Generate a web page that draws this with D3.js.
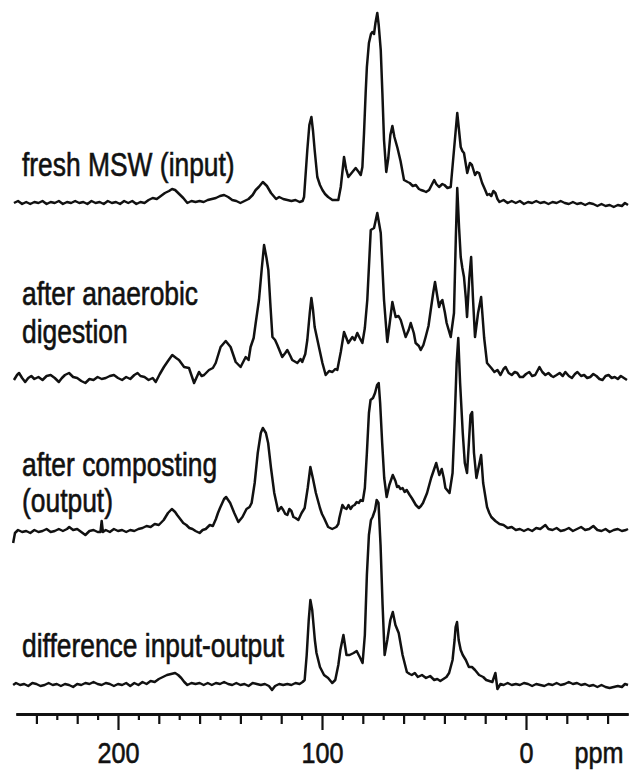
<!DOCTYPE html>
<html>
<head>
<meta charset="utf-8">
<script src="https://cdn.jsdelivr.net/npm/d3@7"></script>
<style>
  body { margin: 0; background: #fff; }
  svg { display: block; }
</style>
</head>
<body>
<svg id="chart" width="630" height="771"></svg>
<script>
// spectra: [chemical shift (ppm), intensity (a.u.)]
const freshMSW = [
  [251, 0], [249, 2], [247, -1], [245, 1], [243, -1], [241, 1], [239, 0], [237, 2], [235, -1], [233, 1],
  [231, 0], [229, 2], [227, -1], [225, 1], [223, 0], [221, 2], [219, 0], [217, 1], [215, -1], [213, 2],
  [211, 0], [209, 1], [207, -1], [205, 2], [203, 0], [201, 1], [199, -1], [197, 2], [195, 0], [193, 2],
  [191, -1], [189, 1], [187, 0], [185, 3], [183, 5], [181, 4], [179, 7], [177, 10], [175, 12], [173.5, 14],
  [172, 13], [170, 9], [168, 5], [166, 0], [164, 2], [162, 1], [160, 2], [158, 1], [156, 3], [154, 4],
  [152, 5], [150, 7], [148, 8], [146, 6], [144, 3], [142, 2], [140, 0], [138, 2], [136, 4], [134, 8],
  [132.5, 13], [131, 16], [129, 21], [127, 17], [125, 10], [122.5, 4], [121, 6], [119, 4], [117, 3], [115, 2],
  [113, 3], [111, 1], [109.5, 2], [108.8, 6], [107.2, 53], [106.2, 78], [105.2, 86], [104.4, 72], [103.6, 53], [102.3, 26],
  [101, 18], [99.8, 13], [98.5, 9], [97, 6], [94.9, 3], [92, 3], [90.8, 16], [89.2, 46], [88.2, 34], [87.1, 26],
  [85.5, 30], [83.5, 35], [82, 31], [81, 28], [80.2, 36], [79.4, 70], [78.6, 110], [78, 136], [77, 160], [76, 169],
  [75.3, 171], [74.5, 169], [73.8, 180], [72.9, 190], [72.2, 178], [71.2, 153], [70.4, 110], [69.6, 63], [68.5, 31], [67.5, 45],
  [66.5, 68], [65.5, 77], [64.5, 66], [63, 55], [61.5, 42], [59.8, 23], [58, 21], [57, 20], [55.5, 17], [54, 18],
  [52.5, 14], [51.5, 13], [50, 12], [49, 11], [47.5, 13], [47, 15], [45, 23], [44, 19], [42.6, 16], [41, 19],
  [40, 18], [38.5, 15], [36.9, 16], [35.3, 53], [33.7, 90], [32, 56], [31.2, 52], [30.4, 50], [28.8, 30], [27.5, 40],
  [26.5, 38], [25, 28], [24, 31], [23, 30], [21.5, 20], [20, 13], [19, 8], [18, 9], [17, 7], [16, 12],
  [15, 10], [14, 4], [13, 1], [11, 3], [9, 0], [7, 2], [5, 0], [3, 2], [1, -1], [-1, 1],
  [-3, 0], [-5, 2], [-7, 0], [-9, 1], [-11, -1], [-13, 1], [-15, 0], [-17, 2], [-19, 0], [-21, -1],
  [-23, 1], [-25, -1], [-27, 0], [-29, -2], [-31, 0], [-33, -1], [-35, -3], [-37, -1], [-39, -3], [-41, -2],
  [-43, -4], [-45, -2], [-47, -3], [-48.5, 0], [-50, -2]
];

const anaerobic = [
  [251, -2], [249.5, 3], [248.5, 5], [247, 0], [245.5, -4], [244, 0], [242.5, 2], [241, -1], [239, 1], [237, -2],
  [235, 2], [233, 3], [231, 0], [229, -4], [227.5, 0], [226, 3], [224, 5], [222, 1], [220, 0], [218, -3],
  [216, -5], [214, -1], [212, -2], [210, 1], [208, -1], [206, 0], [204, 2], [202, 3], [200, 0], [198, -2],
  [196, 1], [194, -1], [192, 3], [190.4, 5], [189, 2], [187, 1], [185, -2], [183, 0], [181.5, -4], [179.5, 4],
  [177.5, 11], [175.5, 17], [173.4, 23], [171.5, 20], [170.1, 18], [167.6, 11], [165.2, 10], [162.7, -5], [160.3, 6], [159, 2],
  [157.8, 3], [155.4, 8], [153.5, 10], [152.1, 15], [149.7, 31], [147.2, 37], [144.8, 31], [142.3, 16], [139.9, 11], [137.4, 21],
  [136, 18], [135, 31], [133.5, 40], [132.5, 55], [130.9, 78], [129.5, 110], [128.4, 133], [127.2, 120], [126.3, 108], [125.2, 70],
  [124.3, 41], [123, 38], [121.9, 33], [119.5, 21], [118, 25], [117, 28], [115.5, 22], [114.6, 18], [112.1, 15], [110.5, 19],
  [109.7, 16], [108.2, 24], [107.2, 38], [106, 65], [105.2, 80], [104.4, 68], [103.6, 51], [101.5, 31], [99.8, 15], [98.2, 3],
  [96.5, 7], [94.9, 6], [93.5, 9], [92.5, 8], [90.8, 26], [89.2, 46], [87.1, 35], [85.1, 41], [84, 38], [82.7, 45],
  [81.5, 40], [80.2, 35], [79, 50], [77.8, 78], [76.1, 148], [74.5, 150], [72.9, 165], [71.2, 145], [69.6, 78], [68, 36],
  [66.8, 55], [65.5, 76], [63.9, 61], [62.5, 62], [61.4, 58], [59, 41], [57.5, 48], [56.5, 55], [55, 45], [54.1, 35],
  [52.5, 32], [51.6, 28], [50.3, 33], [49.2, 41], [47.8, 52], [46.7, 68], [45.5, 85], [44.6, 96], [43.5, 82], [42.6, 71],
  [41.8, 76], [41, 78], [39.8, 66], [38.9, 55], [36.9, 41], [35.3, 65], [34.4, 140], [33.7, 190], [32.8, 150], [32, 121],
  [31.2, 110], [30.4, 101], [29.5, 80], [28.9, 61], [27.8, 100], [26.9, 121], [26, 80], [25, 41], [23.5, 65], [22, 81],
  [20.5, 40], [19.1, 15], [17, 10], [15.5, 6], [14, 8], [12.5, 3], [11, 9], [10, 11], [8.5, 5], [7, 3],
  [5.5, 6], [4.3, 5], [3, 1], [1.5, 1], [0, 4], [-1.6, 6], [-3, 2], [-4.5, 3], [-6.6, 11], [-8, 6],
  [-9.5, 3], [-11, 5], [-12.5, 2], [-13.4, 1], [-15, 3], [-16.5, 5], [-18, 2], [-19.3, 6], [-21, 2], [-22.5, 0],
  [-24, 4], [-25.2, 6], [-27, 2], [-28.5, 3], [-30, 0], [-31.5, 1], [-33, 4], [-34.5, 2], [-36, -1], [-37.5, -2],
  [-39, 2], [-40.5, 3], [-42, 0], [-43.5, 1], [-45, -1], [-46.5, 2], [-48, 0], [-49.5, -2]
];

const composting = [
  [251.4, -10], [250.5, 0], [249, 3], [247, 1], [245, 2], [243, 0], [241, 3], [239, 1], [237, 2], [235, 4],
  [233, 1], [231, 2], [229, 4], [227, 2], [225, 4], [223.9, 6], [222, 3], [220, 4], [218, 1], [216, -2],
  [214, 2], [212, 3], [210, 1], [208.6, 1], [208, 12], [207.4, 1], [206, 3], [204, 1], [202, 4], [200, 2],
  [198, 3], [196, 1], [194, 3], [192, 2], [190, 4], [188, 5], [186, 7], [184, 6], [182, 9], [180, 8],
  [177.6, 13], [175.5, 20], [173.6, 24], [172, 21], [171, 18], [169.5, 14], [168, 10], [166.5, 8], [165, 5], [163.5, 4],
  [162, 2], [160, 0], [158.5, 3], [157, 4], [155, 8], [153.5, 7], [152, 14], [151, 20], [150, 25], [148, 34],
  [147, 36], [145, 30], [143, 20], [141, 11], [139, 16], [137, 24], [135.5, 26], [134.5, 30], [133, 50], [131.5, 80],
  [130, 100], [129, 105], [127.5, 100], [126.4, 90], [125, 65], [123.4, 40], [121.5, 22], [120, 26], [119, 23], [118, 19],
  [117, 18], [116, 24], [115, 22], [114, 16], [113, 15], [111.6, 13], [110, 20], [108.5, 25], [107, 45], [105.7, 66],
  [104.5, 55], [103, 40], [101, 25], [100, 19], [99, 15], [97, 6], [96, 5], [95, 4], [93, 6], [92, 9],
  [91.5, 15], [90, 28], [89, 25], [88, 24], [87, 28], [86, 24], [85, 27], [84, 28], [83, 31], [82, 30],
  [81, 33], [80, 32], [79, 45], [78, 80], [77, 120], [76.2, 133], [75, 135], [74, 140], [73, 148], [72.2, 150],
  [71.5, 130], [70.5, 90], [69.5, 55], [68.3, 36], [67, 48], [65.3, 58], [64, 52], [63.2, 46], [62.5, 47], [61.5, 44],
  [60.5, 45], [59.5, 41], [58.5, 43], [57, 38], [56, 35], [54, 28], [52.5, 25], [51.5, 27], [50.5, 30], [48.5, 40],
  [46.5, 55], [44, 70], [42.5, 58], [41.3, 64], [40.3, 55], [39.5, 45], [37.5, 40], [36, 60], [35, 110], [34, 170],
  [33.2, 195], [32.3, 150], [31, 100], [30, 70], [28.9, 60], [28, 90], [27.2, 118], [26.4, 121], [25.5, 80], [24.3, 55],
  [23, 68], [22, 78], [21, 50], [19.1, 26], [18, 20], [17, 16], [15, 12], [13, 9], [11, 8], [9, 5],
  [7, 6], [5, 3], [3, 4], [1, 2], [-1, 4], [-3, 2], [-5, 5], [-7, 4], [-9.5, 8], [-11, 4],
  [-13, 3], [-15, 5], [-17, 2], [-19, 3], [-21, 5], [-23, 2], [-25, 4], [-27, 6], [-29, 3], [-31, 4],
  [-33, 7], [-35, 3], [-37, 2], [-39, 4], [-41, 1], [-43, 3], [-45, 4], [-47, 2], [-49, 3], [-50, 4]
];

const difference = [
  [251.4, 0], [250, 2], [248, 0], [246, 1], [244, -1], [242, 2], [240, 1], [238, -1], [236, 0], [234, 2],
  [232, 0], [230, 1], [228, -1], [226, 1], [224, 0], [222, -2], [220, 1], [218, 0], [216, 2], [214, 1],
  [212, 3], [210, 1], [208, 0], [206, 2], [204, 1], [202, -1], [200, 1], [198, 0], [196, 2], [194, -1],
  [192, 2], [190, 0], [188, 3], [186, 1], [184, 4], [182, 3], [180, 6], [178, 8], [176, 10], [174, 11],
  [172, 12], [170.5, 10], [169, 7], [167.5, 3], [166, 0], [164, 2], [162, 1], [160, 2], [158, 0], [156, 2],
  [154, 0], [152, 2], [150, 1], [148, 3], [146, 1], [144, 0], [142, 2], [140, 0], [138, 1], [136, -1],
  [134, 2], [132, 1], [130, 0], [128, 1], [126, -1], [124.5, -5], [123, -1], [121, 1], [119, 0], [117, 1],
  [115, 0], [113, 2], [111, 1], [109.5, 3], [108.5, 5], [107.5, 30], [106.5, 65], [105.7, 85], [104.8, 75], [103.5, 45],
  [102.7, 32], [101, 18], [99, 10], [97, 7], [95, 2], [93.5, 5], [92, 20], [91, 35], [89.5, 50], [88, 30],
  [86.5, 30], [84.5, 32], [83, 34], [81.5, 28], [80.1, 22], [79, 50], [78, 110], [77, 150], [76, 165], [75.2, 168],
  [74, 175], [73.2, 185], [72.3, 182], [71.3, 140], [70.3, 80], [69.3, 30], [68, 45], [66.5, 65], [65.3, 73], [64, 60],
  [62.4, 52], [60.5, 30], [58.4, 13], [57, 11], [56, 10], [54.5, 12], [53, 8], [51, 10], [49, 7], [47, 9],
  [45, 5], [43.5, 6], [42, 4], [40.5, 6], [39, 8], [37.7, 12], [36, 25], [35, 45], [34.5, 58], [33.8, 63],
  [33, 45], [32, 35], [31, 30], [29.5, 25], [28, 18], [26.5, 18], [25, 15], [23, 10], [21, 8], [19.5, 5],
  [18, 4], [16.5, 3], [15, 12], [14, -4], [12.5, 1], [11, 0], [9, 2], [7, 0], [5, 1], [3, 0],
  [1, 2], [-1, 1], [-3, -1], [-5, 1], [-7, 0], [-9, -1], [-11, 1], [-13, 0], [-15, 2], [-17, 0],
  [-19, 1], [-21, 3], [-23, 1], [-25, 2], [-27, 0], [-29, 1], [-31, -1], [-33, 0], [-35, -2], [-37, 0],
  [-39, -2], [-41, -3], [-43, -2], [-45, -1], [-47, -2], [-48.5, 1], [-50, 0]
];

const traceLabels = [
  ["fresh MSW (input)"],
  ["after anaerobic", "digestion"],
  ["after composting", "(output)"],
  ["difference input-output"]
];

const majorTicks = [200, 100, 0];
const ppmDomain = [250, -50];

// layout
const baselines = [203, 378, 533, 685];
const labelLines = [[176], [305, 343], [476, 512], [657]];
const labelX = 22;
const axisY = 714;
const fontFamily = "'Liberation Sans', Arial, Helvetica, sans-serif";
const squeeze = 0.8;

const svg = d3.select("#chart");

const x = d3.scaleLinear().domain(ppmDomain).range([16, 628]);
const y = d3.scaleLinear().domain([0, 200]).range([0, -200]);

const line = d3.line()
    .x(d => x(d[0]))
    .y(d => y(d[1]));

const spectra = [freshMSW, anaerobic, composting, difference];

spectra.forEach((s, i) => {
  const g = svg.append("g")
      .attr("transform", `translate(0, ${baselines[i]})`);
  g.append("path")
      .datum(s)
      .attr("d", line)
      .attr("fill", "none")
      .attr("stroke", "#111")
      .attr("stroke-width", 2.5)
      .attr("stroke-linejoin", "round");
});

// labels
traceLabels.forEach((lines, i) => {
  lines.forEach((t, j) => {
    svg.append("text")
        .attr("transform", `translate(${labelX}, ${labelLines[i][j]}) scale(${squeeze}, 1)`)
        .attr("font-family", fontFamily)
        .attr("font-size", "33px")
        .attr("fill", "#111")
        .attr("stroke", "#111")
        .attr("stroke-width", 0.6)
        .text(t);
  });
});

// x axis
const minor = d3.range(-40, 250, 10).filter(v => v % 100 !== 0);
const axisG = svg.append("g").attr("transform", `translate(0, ${axisY})`);

axisG.append("g")
    .call(d3.axisBottom(x).tickValues(minor.filter(v => v % 20 !== 0)).tickSize(6).tickSizeOuter(0).tickFormat(""));
axisG.append("g")
    .call(d3.axisBottom(x).tickValues(minor.filter(v => v % 20 === 0)).tickSize(10).tickSizeOuter(0).tickFormat(""));
const majorG = axisG.append("g")
    .call(d3.axisBottom(x).tickValues(majorTicks).tickSize(16).tickSizeOuter(0));

axisG.selectAll("path.domain").attr("stroke", "#111").attr("stroke-width", 2.5);
axisG.selectAll(".tick line").attr("stroke", "#111").attr("stroke-width", 2.2);

majorG.selectAll(".tick text")
    .attr("y", 763 - axisY)
    .attr("dy", 0)
    .attr("transform", "scale(0.84, 1)")
    .attr("font-family", fontFamily)
    .attr("font-size", "30px")
    .attr("fill", "#111")
    .attr("stroke", "#111")
    .attr("stroke-width", 0.6);

svg.append("text")
    .attr("transform", `translate(599, 763) scale(0.84, 1)`)
    .attr("text-anchor", "middle")
    .attr("font-family", fontFamily)
    .attr("font-size", "30px")
    .attr("fill", "#111")
    .attr("stroke", "#111")
    .attr("stroke-width", 0.6)
    .text("ppm");
</script>
</body>
</html>
